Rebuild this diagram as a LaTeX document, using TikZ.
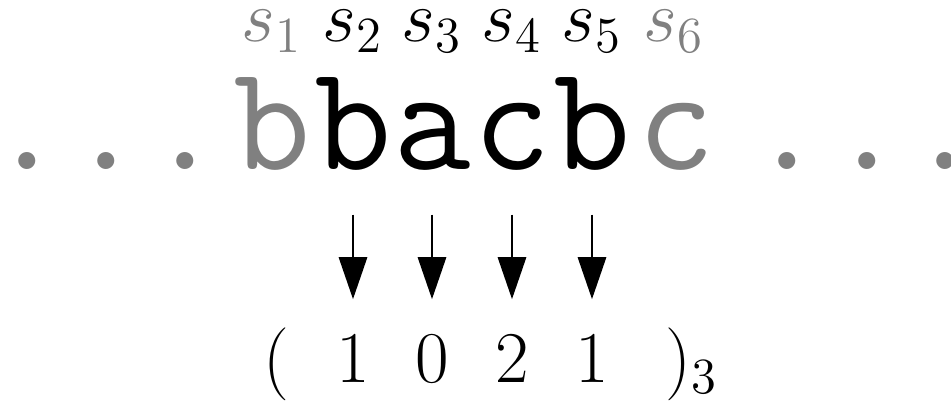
\documentclass[tikz,border=0pt]{standalone}
\usepackage{amsmath}
\usepackage{xcolor}
\usetikzlibrary{arrows.meta}
\definecolor{SymGray}{HTML}{808080}

\begin{document}
\begin{tikzpicture}[x=0.01cm,y=0.01cm,
  sym/.style={inner sep=0pt,anchor=base,font=\fontsize{42.8}{50}\selectfont\ttfamily},
  lbl/.style={inner sep=0pt,anchor=base,font=\fontsize{20}{24}\selectfont},
  dig/.style={inner sep=0pt,anchor=base,font=\fontsize{21.2}{26}\selectfont},
  map/.style={-{Triangle[width=0.28cm,length=0.42cm]},line width=0.85pt,shorten <=0.43cm,shorten >=0.36cm}]
\useasboundingbox (0,0) rectangle (951,401);
% the window s_2..s_5 is read, its neighbours are greyed out
\foreach \x [count=\i] in {27,106,185} {\node[sym,text=SymGray] (ld\i) at (\x,231) {.};}
\node[sym,text=SymGray] (c1) at (272,231) {b};
\foreach \x/\ch [count=\i from 2] in {353/b,432/a,512/c,592/b} {\node[sym] (c\i) at (\x,231) {\ch};}
\node[sym,text=SymGray] (c6) at (676,231) {c};
\foreach \x [count=\i] in {787,867,945} {\node[sym,text=SymGray] (rd\i) at (\x,231) {.};}

\node[lbl,text=SymGray] (s1) at (272,359) {$s_1$};
\foreach \x [count=\i from 2] in {353,432,512,592} {\node[lbl] (s\i) at (\x,359) {$s_{\i}$};}
\node[lbl,text=SymGray] (s6) at (674,359) {$s_6$};

\node[dig] (lp) at (276,18) {$($};
\foreach \x/\d [count=\i from 2] in {353/1,432/0,512/2,592/1} {\node[dig] (d\i) at (\x,18) {$\d$};}
\node[dig,anchor=base west] (rp) at (665,18) {$)_3$};

\foreach \i in {2,...,5} {\draw[map] (c\i) -- (d\i);}
\end{tikzpicture}
\end{document}
